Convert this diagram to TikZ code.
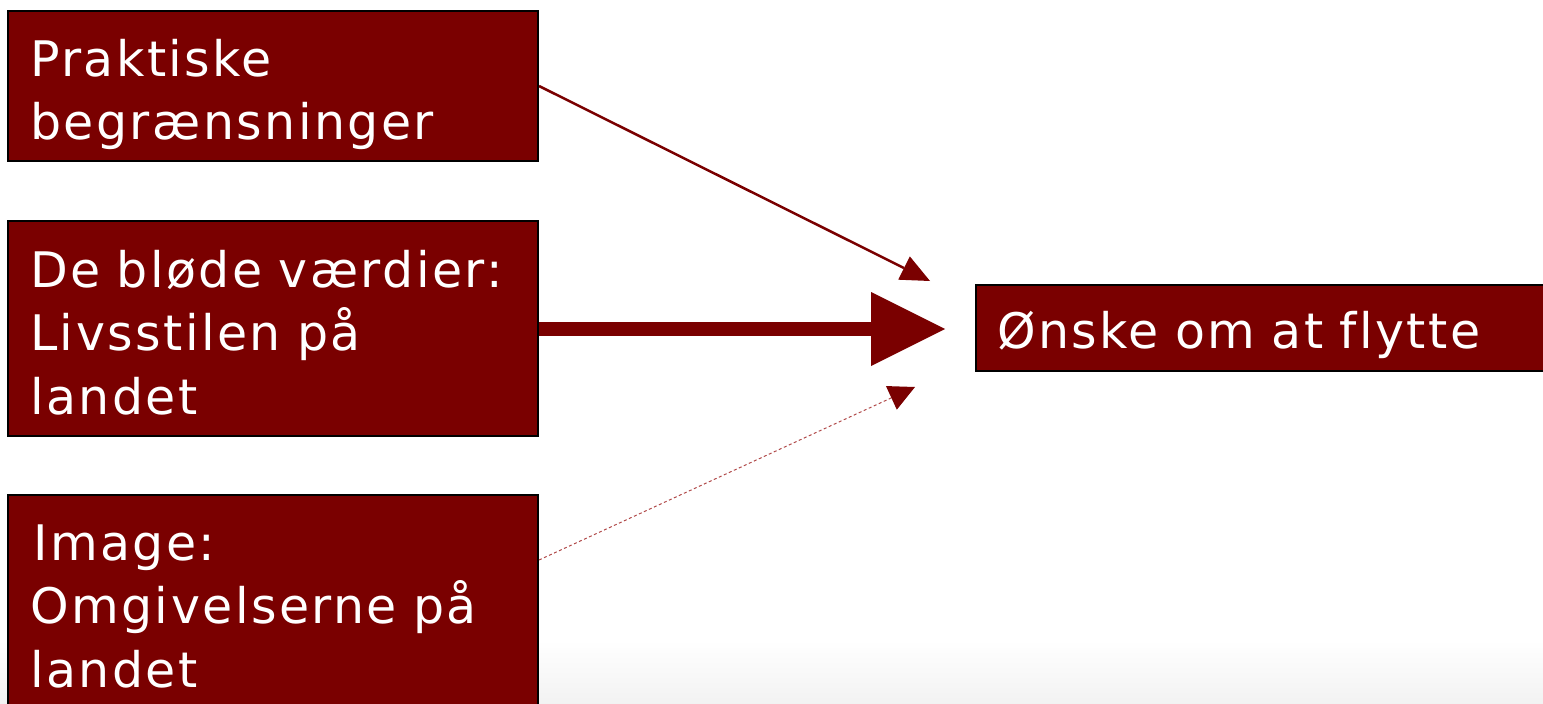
\documentclass[tikz,border=0pt]{standalone}
\usepackage{fontspec}
\setmainfont[LetterSpace=5,Ligatures=NoCommon]{DejaVu Sans}
\usetikzlibrary{arrows.meta}
\definecolor{wine}{HTML}{7A0000}
\definecolor{dotred}{HTML}{B04848}
\tikzset{
  box/.style={draw=black, line width=2pt, fill=wine, anchor=north west, inner sep=0pt},
  txt/.style={text=white, anchor=base west, align=left, text width=560pt, inner sep=0pt,
    font=\fontsize{49}{63.5}\selectfont},
  thin/.style={draw=wine, line width=2.5pt, -{Triangle[length=29pt,width=26pt,line width=0pt]}},
  thick/.style={draw=wine, line width=14pt, -{Triangle[length=74pt,width=74pt,line width=0pt]}},
  dots/.style={draw=dotred, line width=1pt, dash pattern=on 3pt off 2.5pt, -{Triangle[length=26pt,width=26pt,line width=0pt,color=wine]}}
}
\begin{document}
\begin{tikzpicture}[x=1pt,y=-1pt]
\useasboundingbox (0,0) rectangle (1543,704);
\shade[top color=white, bottom color=black!5] (0,640) rectangle (1543,704);
\node[box, minimum width=530pt, minimum height=150pt] (p) at (7,10) {};
\node[box, minimum width=530pt, minimum height=215pt] (d) at (7,220) {};
\node[box, minimum width=530pt, minimum height=240pt] (i) at (7,494) {};
\node[box, minimum width=600pt, minimum height=86pt] (o) at (975,284) {};
\node[txt] (pt) at (30,76) {Praktiske\\begrænsninger};
\node[txt] (dt) at (30,287) {De bløde værdier:\\Livsstilen på\\landet};
\node[txt] (it) at (30,560) {\kern3pt Image:\\Omgivelserne på\\landet};
\node[txt] (ot) at (997,348) {Ønske om at flytte};
\coordinate (t1) at (930,281);
\coordinate (t2) at (945,329);
\coordinate (t3) at (915,387);
\draw[thin] (p.east) -- (t1);
\draw[thick] (d.east |- t2) -- (t2);
\draw[dots] ([yshift=-66pt]i.north east) -- (t3);
\end{tikzpicture}
\end{document}
